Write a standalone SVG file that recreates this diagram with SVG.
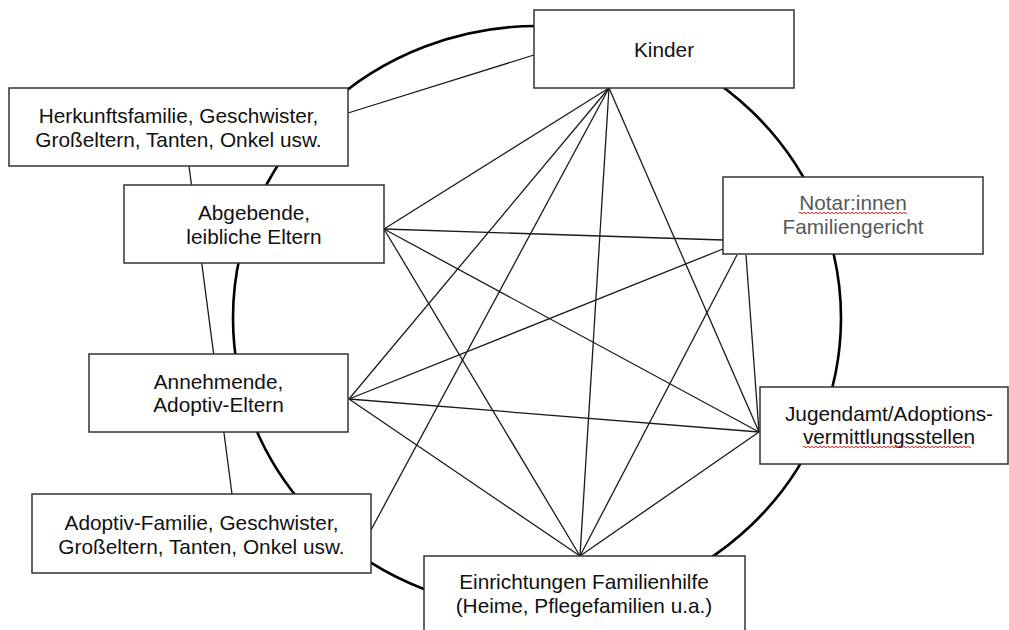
<svg xmlns="http://www.w3.org/2000/svg" width="1009" height="630" viewBox="0 0 1009 630">
<style>
.box{fill:#fff;stroke:#333;stroke-width:1.5}
.t{font-family:"Liberation Sans",Arial,sans-serif;font-size:20.8px;fill:#111;text-anchor:middle}
.g{fill:#595959}
.c line{stroke:#1a1a1a;stroke-width:1.3}
.ring{fill:none;stroke:#000;stroke-width:2.6}
.wave{fill:none;stroke:#e0201c;stroke-width:1}
</style>
<rect width="1009" height="630" fill="#fff"/>
<g id="connectors" class="c">
<ellipse class="ring" cx="537" cy="318" rx="304" ry="292"/>
<line x1="348" y1="113" x2="534" y2="55"/>
<line x1="189" y1="166" x2="232" y2="494"/>
<line x1="609" y1="88" x2="384" y2="229"/>
<line x1="609" y1="88" x2="349" y2="399"/>
<line x1="609" y1="88" x2="371" y2="530"/>
<line x1="609" y1="88" x2="580" y2="556"/>
<line x1="609" y1="88" x2="759" y2="432"/>
<line x1="384" y1="229" x2="723" y2="240"/>
<line x1="384" y1="229" x2="759" y2="432"/>
<line x1="384" y1="229" x2="580" y2="556"/>
<line x1="349" y1="399" x2="723" y2="249"/>
<line x1="349" y1="399" x2="759" y2="432"/>
<line x1="349" y1="399" x2="580" y2="556"/>
<line x1="737" y1="255" x2="580" y2="556"/>
<line x1="746" y1="255" x2="759" y2="432"/>
<line x1="759" y1="432" x2="580" y2="556"/>
</g>
<g id="kinder">
<rect class="box" x="534" y="10" width="260" height="78"/>
<text class="t" x="664" y="57">Kinder</text>
</g>
<g id="herkunftsfamilie">
<rect class="box" x="9" y="88" width="339" height="78"/>
<text class="t" x="178.5" y="123">Herkunftsfamilie, Geschwister,</text>
<text class="t" x="178.5" y="147">Großeltern, Tanten, Onkel usw.</text>
</g>
<g id="abgebende">
<rect class="box" x="124" y="185" width="260" height="78"/>
<text class="t" x="254" y="220">Abgebende,</text>
<text class="t" x="254" y="244">leibliche Eltern</text>
</g>
<g id="notar">
<rect class="box" x="723" y="177" width="260" height="77"/>
<text class="t g" x="853" y="210">Notar:innen</text>
<text class="t g" x="853" y="234">Familiengericht</text>
<path class="wave" d="M799,213 q1,-1.5 2,0 t2,0 t2,0 t2,0 t2,0 t2,0 t2,0 t2,0 t2,0 t2,0 t2,0 t2,0 t2,0 t2,0 t2,0 t2,0 t2,0 t2,0 t2,0 t2,0 t2,0 t2,0 t2,0 t2,0 t2,0 t2,0 t2,0 t2,0 t2,0 t2,0 t2,0 t2,0 t2,0 t2,0 t2,0 t2,0 t2,0 t2,0 t2,0 t2,0 t2,0 t2,0 t2,0 t2,0 t2,0 t2,0 t2,0 t2,0 t2,0 t2,0 t2,0 t2,0 t2,0 t2,0"/>
</g>
<g id="annehmende">
<rect class="box" x="89" y="354" width="259" height="78"/>
<text class="t" x="218.5" y="389">Annehmende,</text>
<text class="t" x="218.5" y="412">Adoptiv-Eltern</text>
</g>
<g id="jugendamt">
<rect class="box" x="760" y="387" width="248" height="77"/>
<text class="t" x="889" y="421">Jugendamt/Adoptions-</text>
<text class="t" x="889" y="444">vermittlungsstellen</text>
<path class="wave" d="M803,447 q1,-1.5 2,0 t2,0 t2,0 t2,0 t2,0 t2,0 t2,0 t2,0 t2,0 t2,0 t2,0 t2,0 t2,0 t2,0 t2,0 t2,0 t2,0 t2,0 t2,0 t2,0 t2,0 t2,0 t2,0 t2,0 t2,0 t2,0 t2,0 t2,0 t2,0 t2,0 t2,0 t2,0 t2,0 t2,0 t2,0 t2,0 t2,0 t2,0 t2,0 t2,0 t2,0 t2,0 t2,0 t2,0 t2,0 t2,0 t2,0 t2,0 t2,0 t2,0 t2,0 t2,0 t2,0 t2,0 t2,0 t2,0 t2,0 t2,0 t2,0 t2,0 t2,0 t2,0 t2,0 t2,0 t2,0 t2,0 t2,0 t2,0 t2,0 t2,0 t2,0 t2,0 t2,0 t2,0 t2,0 t2,0 t2,0 t2,0 t2,0 t2,0 t2,0 t2,0 t2,0 t2,0"/>
</g>
<g id="adoptiv-familie">
<rect class="box" x="32" y="494" width="339" height="79"/>
<text class="t" x="201.5" y="530">Adoptiv-Familie, Geschwister,</text>
<text class="t" x="201.5" y="554">Großeltern, Tanten, Onkel usw.</text>
</g>
<g id="einrichtungen">
<rect class="box" x="424" y="556" width="321" height="90"/>
<text class="t" x="584" y="589">Einrichtungen Familienhilfe</text>
<text class="t" x="584" y="613">(Heime, Pflegefamilien u.a.)</text>
</g>
</svg>
